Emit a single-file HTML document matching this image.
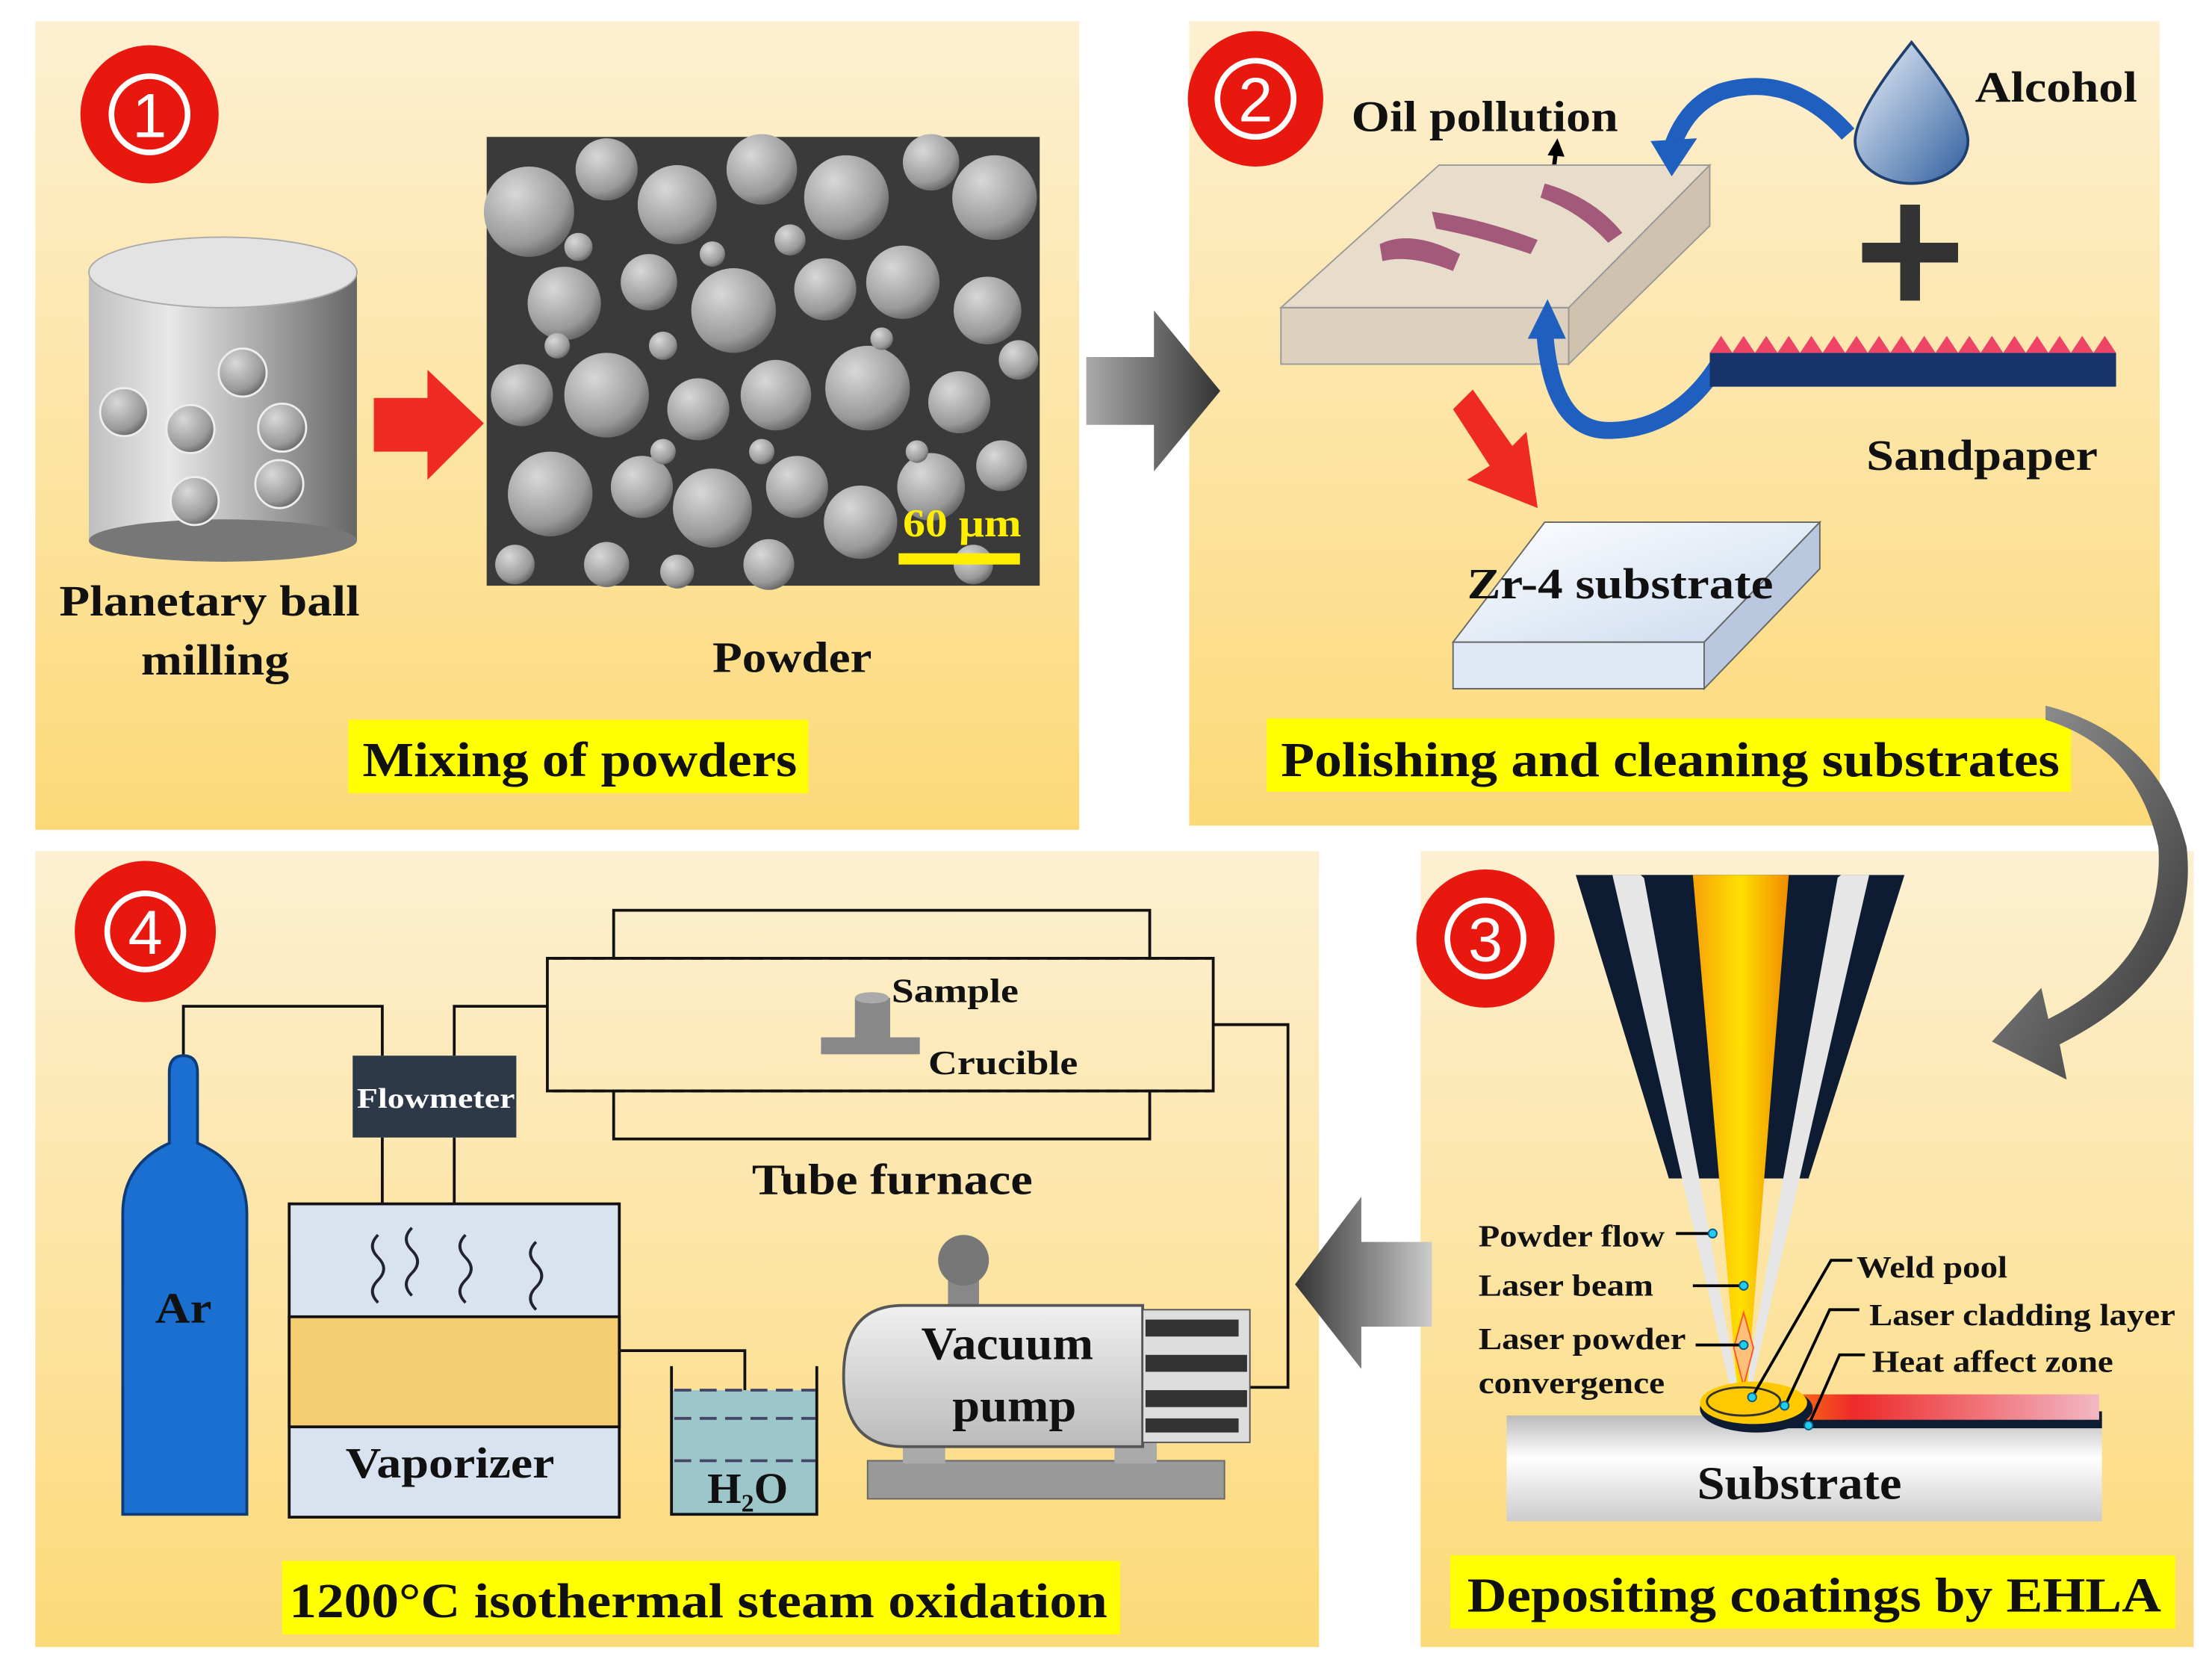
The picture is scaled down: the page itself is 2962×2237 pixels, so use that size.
<!DOCTYPE html>
<html><head><meta charset="utf-8"><style>
html,body{margin:0;padding:0;background:#fff}
svg{display:block}
text{font-family:"Liberation Serif",serif;font-weight:bold;fill:#111}
</style></head><body>
<svg width="2962" height="2237" viewBox="0 0 1568 1184" preserveAspectRatio="none" xmlns="http://www.w3.org/2000/svg">
<defs>
<linearGradient id="bg" x1="0" y1="0" x2="0" y2="1"><stop offset="0" stop-color="#fdf0d2"/><stop offset="1" stop-color="#fcd978"/></linearGradient>
<linearGradient id="cyl" x1="0" y1="0" x2="1" y2="0"><stop offset="0" stop-color="#bfbfbf"/><stop offset=".3" stop-color="#e8e8e8"/><stop offset="1" stop-color="#666"/></linearGradient>
<radialGradient id="ball" cx=".35" cy=".3" r=".8"><stop offset="0" stop-color="#d8d8d8"/><stop offset=".7" stop-color="#999"/><stop offset="1" stop-color="#555"/></radialGradient>
<linearGradient id="darr" x1="0" y1="0" x2="1" y2="0"><stop offset="0" stop-color="#aaa"/><stop offset="1" stop-color="#333"/></linearGradient>
<linearGradient id="darr2" x1="1" y1="0" x2="0" y2="0"><stop offset="0" stop-color="#ccc"/><stop offset="1" stop-color="#333"/></linearGradient>
<linearGradient id="beam" x1="0" y1="0" x2="1" y2="0"><stop offset="0" stop-color="#f7a20a"/><stop offset=".5" stop-color="#ffe000"/><stop offset="1" stop-color="#f08a00"/></linearGradient>
<linearGradient id="heat" x1="0" y1="0" x2="1" y2="0"><stop offset="0" stop-color="#ffa000"/><stop offset=".3" stop-color="#ee2a2a"/><stop offset="1" stop-color="#f2b8c4"/></linearGradient>
<linearGradient id="sub" x1="0" y1="0" x2="0" y2="1"><stop offset="0" stop-color="#bbb"/><stop offset=".4" stop-color="#fff"/><stop offset="1" stop-color="#ccc"/></linearGradient>
<linearGradient id="drop" x1="0" y1="0" x2="1" y2="1"><stop offset="0" stop-color="#eef4fb"/><stop offset="1" stop-color="#2f5f9f"/></linearGradient>
<linearGradient id="zr" x1="0" y1="0" x2="1" y2="1"><stop offset="0" stop-color="#fff"/><stop offset="1" stop-color="#c9d9ee"/></linearGradient>
<linearGradient id="pump" x1="0" y1="0" x2="0" y2="1"><stop offset="0" stop-color="#f0f0f0"/><stop offset="1" stop-color="#bbb"/></linearGradient>
<linearGradient id="curv" x1="0" y1="0" x2="1" y2="1"><stop offset="0" stop-color="#999"/><stop offset="1" stop-color="#333"/></linearGradient>
</defs>
<rect width="1568" height="1184" fill="#fff"/>
<rect x="25" y="15" width="740" height="573" fill="url(#bg)"/>
<rect x="843" y="15" width="688" height="570" fill="url(#bg)"/>
<rect x="25" y="603" width="910" height="564" fill="url(#bg)"/>
<rect x="1007" y="603" width="548" height="564" fill="url(#bg)"/>

<!-- Panel 1 -->
<circle cx="106" cy="81" r="49" fill="#e8180f"/>
<circle cx="106" cy="81" r="27" fill="none" stroke="#fff" stroke-width="4"/>
<text x="106" y="97" font-size="44" text-anchor="middle" style="fill:#fff;font-weight:normal;font-family:'Liberation Sans',sans-serif">1</text>
<rect x="63" y="193" width="190" height="190" fill="url(#cyl)"/>
<ellipse cx="158" cy="383" rx="95" ry="15" fill="#777"/>
<ellipse cx="158" cy="193" rx="95" ry="25" fill="#e3e3e3" stroke="#aaa"/>
<g fill="url(#ball)" stroke="#eee" stroke-width="1.5">
<circle cx="88" cy="292" r="17"/><circle cx="135" cy="304" r="17"/><circle cx="172" cy="264" r="17"/><circle cx="200" cy="303" r="17"/><circle cx="138" cy="355" r="17"/><circle cx="198" cy="343" r="17"/></g>
<text x="42" y="436" font-size="31" textLength="213" lengthAdjust="spacingAndGlyphs">Planetary ball</text>
<text x="100" y="478" font-size="31" textLength="105" lengthAdjust="spacingAndGlyphs">milling</text>
<polygon points="265,282 303,282 303,262 343,300 303,340 303,320 265,320" fill="#ee2a22"/>
<rect x="345" y="97" width="392" height="318" fill="#3a3a3a"/>
<g fill="url(#ball)">
<circle cx="375" cy="150" r="32"/><circle cx="430" cy="120" r="22"/><circle cx="480" cy="145" r="28"/><circle cx="540" cy="120" r="25"/><circle cx="600" cy="140" r="30"/><circle cx="660" cy="115" r="20"/><circle cx="705" cy="140" r="30"/>
<circle cx="400" cy="215" r="26"/><circle cx="460" cy="200" r="20"/><circle cx="520" cy="220" r="30"/><circle cx="585" cy="205" r="22"/><circle cx="640" cy="200" r="26"/><circle cx="700" cy="220" r="24"/>
<circle cx="370" cy="280" r="22"/><circle cx="430" cy="280" r="30"/><circle cx="495" cy="290" r="22"/><circle cx="550" cy="280" r="25"/><circle cx="615" cy="275" r="30"/><circle cx="680" cy="285" r="22"/><circle cx="722" cy="255" r="14"/>
<circle cx="390" cy="350" r="30"/><circle cx="455" cy="345" r="22"/><circle cx="505" cy="360" r="28"/><circle cx="565" cy="345" r="22"/><circle cx="610" cy="370" r="26"/><circle cx="660" cy="345" r="24"/><circle cx="710" cy="330" r="18"/>
<circle cx="365" cy="400" r="14"/><circle cx="430" cy="400" r="16"/><circle cx="480" cy="405" r="12"/><circle cx="545" cy="400" r="18"/><circle cx="690" cy="400" r="14"/>
<circle cx="410" cy="175" r="10"/><circle cx="505" cy="180" r="9"/><circle cx="560" cy="170" r="11"/><circle cx="625" cy="240" r="8"/><circle cx="470" cy="245" r="10"/><circle cx="395" cy="245" r="9"/><circle cx="540" cy="320" r="9"/><circle cx="650" cy="320" r="8"/><circle cx="470" cy="320" r="9"/>
</g>
<text x="640" y="380" font-size="28" textLength="84" lengthAdjust="spacingAndGlyphs" style="fill:#ffee00">60 μm</text>
<rect x="637" y="392" width="86" height="8" fill="#ffee00"/>
<text x="505" y="476" font-size="31" textLength="113" lengthAdjust="spacingAndGlyphs">Powder</text>
<rect x="247" y="510" width="326" height="52" fill="#ffff00"/>
<text x="257" y="550" font-size="35" textLength="308" lengthAdjust="spacingAndGlyphs">Mixing of powders</text>

<polygon points="770,253 818,253 818,220 865,277 818,334 818,301 770,301" fill="url(#darr)"/>

<!-- Panel 2 -->
<circle cx="890" cy="70" r="48" fill="#e8180f"/>
<circle cx="890" cy="70" r="27" fill="none" stroke="#fff" stroke-width="4"/>
<text x="890" y="86" font-size="44" text-anchor="middle" style="fill:#fff;font-weight:normal;font-family:'Liberation Sans',sans-serif">2</text>
<text x="958" y="93" font-size="31" textLength="189" lengthAdjust="spacingAndGlyphs">Oil pollution</text>
<line x1="1100" y1="130" x2="1103" y2="107" stroke="#000" stroke-width="3"/>
<polygon points="1097,110 1104,98 1109,111" fill="#000"/>
<polygon points="908,218 1020,117 1212,117 1112,218" fill="#e8dccb"/>
<polygon points="908,218 1112,218 1112,258 908,258" fill="#ddd0bd" stroke="#999"/>
<polygon points="1112,218 1212,117 1212,160 1112,258" fill="#cfc2ae" stroke="#999"/>
<polygon points="908,218 1020,117 1212,117 1112,218" fill="none" stroke="#999"/>
<g fill="#a35a7a"><path d="M978,173 Q1000,162 1035,180 L1030,192 Q1000,180 980,185 Z"/><path d="M1015,150 Q1050,155 1090,170 L1085,180 Q1050,168 1018,162 Z"/><path d="M1095,130 Q1130,140 1150,165 L1140,172 Q1120,150 1092,140 Z"/></g>
<path d="M1310,95 Q1270,50 1220,65 Q1195,75 1185,105" fill="none" stroke="#1f5fbf" stroke-width="12"/>
<polygon points="1170,100 1185,125 1203,98" fill="#1f5fbf"/>
<path d="M1220,255 Q1190,305 1140,305 Q1100,305 1095,235" fill="none" stroke="#1f5fbf" stroke-width="12"/>
<polygon points="1083,240 1097,212 1110,240" fill="#1f5fbf"/>
<path d="M1355,30 Q1395,80 1395,100 A40,30 0 0 1 1315,100 Q1315,80 1355,30 Z" fill="url(#drop)" stroke="#1f3f6f" stroke-width="2"/>
<text x="1400" y="72" font-size="31" textLength="115" lengthAdjust="spacingAndGlyphs">Alcohol</text>
<rect x="1347" y="145" width="14" height="68" fill="#333"/>
<rect x="1320" y="172" width="68" height="14" fill="#333"/>
<rect x="1212" y="250" width="288" height="24" fill="#17336a"/>
<path d="M1212,250 l8,-12 8,12 8,-12 8,12 8,-12 8,12 8,-12 8,12 8,-12 8,12 8,-12 8,12 8,-12 8,12 8,-12 8,12 8,-12 8,12 8,-12 8,12 8,-12 8,12 8,-12 8,12 8,-12 8,12 8,-12 8,12 8,-12 8,12 8,-12 8,12 8,-12 8,12 8,-12 8,12 Z" fill="#ee4466"/>
<text x="1323" y="333" font-size="31" textLength="164" lengthAdjust="spacingAndGlyphs">Sandpaper</text>
<polygon points="1030,290 1044,276 1072,316 1082,306 1090,360 1040,340 1056,330" fill="#ee2a22"/>
<polygon points="1030,455 1095,370 1290,370 1208,455" fill="url(#zr)" stroke="#666"/>
<polygon points="1030,455 1208,455 1208,488 1030,488" fill="#dfe8f5" stroke="#666"/>
<polygon points="1208,455 1290,370 1290,403 1208,488" fill="#b9c8de" stroke="#666"/>
<text x="1040" y="424" font-size="31" textLength="217" lengthAdjust="spacingAndGlyphs">Zr-4 substrate</text>
<rect x="898" y="509" width="570" height="52" fill="#ffff00"/>
<text x="908" y="550" font-size="35" textLength="552" lengthAdjust="spacingAndGlyphs">Polishing and cleaning substrates</text>

<path d="M1450,500 Q1530,520 1550,600 Q1560,690 1460,740 L1465,765 L1412,738 L1447,700 L1452,722 Q1535,680 1530,600 Q1515,530 1450,510 Z" fill="url(#curv)"/>

<!-- Panel 3 -->
<circle cx="1053" cy="665" r="49" fill="#e8180f"/>
<circle cx="1053" cy="665" r="27" fill="none" stroke="#fff" stroke-width="4"/>
<text x="1053" y="681" font-size="44" text-anchor="middle" style="fill:#fff;font-weight:normal;font-family:'Liberation Sans',sans-serif">3</text>
<polygon points="1117,620 1350,620 1282,835 1183,835" fill="#0d1c33"/>
<polygon points="1143,620 1165,620 1233,990 1228,990" fill="#e6e6e6"/>
<polygon points="1303,620 1325,620 1240,990 1236,990" fill="#e6e6e6"/>
<polygon points="1163,620 1305,620 1280,640 1185,640" fill="#0d1c33"/>
<polygon points="1200,620 1268,620 1238,990 1232,990" fill="url(#beam)"/>
<polygon points="1236,930 1243,955 1236,982 1229,955" fill="#ffc07a" stroke="#ff5522"/>
<rect x="1068" y="1003" width="422" height="75" fill="url(#sub)"/>
<rect x="1250" y="1000" width="240" height="12" fill="#0d1c33"/>
<rect x="1240" y="988" width="248" height="18" fill="url(#heat)"/>
<ellipse cx="1245" cy="998" rx="40" ry="17" fill="#0d1c33"/>
<ellipse cx="1243" cy="994" rx="38" ry="15" fill="#ffc800"/>
<ellipse cx="1236" cy="993" rx="26" ry="10" fill="none" stroke="#333" stroke-width="1.5"/>
<g stroke="#000" stroke-width="2" fill="none">
<line x1="1188" y1="874" x2="1214" y2="874"/><line x1="1200" y1="911" x2="1236" y2="911"/><line x1="1202" y1="953" x2="1236" y2="953"/>
<polyline points="1242,990 1298,893 1313,893"/><polyline points="1265,997 1297,928 1318,928"/><polyline points="1282,1010 1304,960 1322,960"/></g>
<g fill="#22ccee" stroke="#0a5c88"><circle cx="1214" cy="874" r="3"/><circle cx="1236" cy="911" r="3"/><circle cx="1236" cy="953" r="3"/><circle cx="1242" cy="990" r="3"/><circle cx="1265" cy="996" r="3"/><circle cx="1282" cy="1010" r="3"/></g>
<g font-size="22">
<text x="1048" y="883" textLength="132" lengthAdjust="spacingAndGlyphs">Powder flow</text>
<text x="1048" y="918" textLength="124" lengthAdjust="spacingAndGlyphs">Laser beam</text>
<text x="1048" y="956" textLength="147" lengthAdjust="spacingAndGlyphs">Laser powder</text>
<text x="1048" y="987" textLength="132" lengthAdjust="spacingAndGlyphs">convergence</text>
<text x="1316" y="905" textLength="107" lengthAdjust="spacingAndGlyphs">Weld pool</text>
<text x="1325" y="939" textLength="217" lengthAdjust="spacingAndGlyphs">Laser cladding layer</text>
<text x="1327" y="972" textLength="171" lengthAdjust="spacingAndGlyphs">Heat affect zone</text></g>
<text x="1203" y="1062" font-size="33" textLength="145" lengthAdjust="spacingAndGlyphs">Substrate</text>
<rect x="1028" y="1102" width="514" height="52" fill="#ffff00"/>
<text x="1040" y="1142" font-size="35" textLength="492" lengthAdjust="spacingAndGlyphs">Depositing coatings by EHLA</text>

<polygon points="1015,880 965,880 965,848 918,910 965,970 965,940 1015,940" fill="url(#darr2)"/>

<!-- Panel 4 -->
<circle cx="103" cy="660" r="50" fill="#e8180f"/>
<circle cx="103" cy="660" r="27" fill="none" stroke="#fff" stroke-width="4"/>
<text x="103" y="676" font-size="44" text-anchor="middle" style="fill:#fff;font-weight:normal;font-family:'Liberation Sans',sans-serif">4</text>
<g stroke="#111" stroke-width="2" fill="none">
<polyline points="130,748 130,713 271,713 271,748"/>
<polyline points="322,748 322,713 388,713"/>
<polyline points="271,806 271,853"/><polyline points="322,806 322,853"/>
<rect x="388" y="679" width="472" height="94"/>
<polyline points="435,679 435,645 815,645 815,679"/>
<polyline points="435,773 435,807 815,807 815,773"/>
<polyline points="860,726 913,726 913,983 850,983"/>
<polyline points="440,957 528,957 528,1025"/>
</g>
<g stroke="#111" stroke-width="2" stroke-dasharray="9,5"><line x1="392" y1="679" x2="858" y2="679"/><line x1="392" y1="773" x2="858" y2="773"/></g>
<rect x="606" y="707" width="25" height="30" fill="#888"/>
<ellipse cx="618" cy="707" rx="12" ry="4" fill="#aaa"/>
<rect x="582" y="735" width="70" height="12" fill="#888"/>
<text x="632" y="710" font-size="24" textLength="90" lengthAdjust="spacingAndGlyphs">Sample</text>
<text x="658" y="761" font-size="24" textLength="106" lengthAdjust="spacingAndGlyphs">Crucible</text>
<text x="533" y="846" font-size="31" textLength="199" lengthAdjust="spacingAndGlyphs">Tube furnace</text>
<path d="M120,760 Q120,748 130,748 Q140,748 140,760 L140,810 Q175,825 175,860 L175,1073 L87,1073 L87,860 Q87,825 120,810 Z" fill="#1a6fd0" stroke="#0d3c78" stroke-width="2"/>
<text x="110" y="937" font-size="31" textLength="40" lengthAdjust="spacingAndGlyphs">Ar</text>
<rect x="250" y="748" width="116" height="58" fill="#2d3848"/>
<text x="253" y="785" font-size="20" textLength="112" lengthAdjust="spacingAndGlyphs" style="fill:#fff">Flowmeter</text>
<rect x="205" y="853" width="234" height="222" fill="#d9e3f0" stroke="#111" stroke-width="2"/>
<rect x="205" y="933" width="234" height="78" fill="#f3cd70" stroke="#111" stroke-width="2"/>
<g stroke="#223" stroke-width="2" fill="none">
<path d="M268,875 q-8,8 0,16 q8,8 0,16 q-8,8 0,16"/><path d="M292,870 q-8,8 0,16 q8,8 0,16 q-8,8 0,16"/><path d="M330,875 q-8,8 0,16 q8,8 0,16 q-8,8 0,16"/><path d="M380,880 q-8,8 0,16 q8,8 0,16 q-8,8 0,16"/></g>
<text x="245" y="1047" font-size="31" textLength="148" lengthAdjust="spacingAndGlyphs">Vaporizer</text>
<rect x="476" y="985" width="103" height="88" fill="#9cc6c9"/>
<polyline points="476,968 476,1073 579,1073 579,968" fill="none" stroke="#111" stroke-width="2"/>
<g stroke="#446" stroke-width="2" stroke-dasharray="12,6"><line x1="478" y1="985" x2="578" y2="985"/><line x1="478" y1="1005" x2="578" y2="1005"/><line x1="478" y1="1035" x2="578" y2="1035"/></g>
<text x="530" y="1065" font-size="31" text-anchor="middle">H<tspan font-size="18" dy="6">2</tspan><tspan dy="-6">O</tspan></text>
<rect x="615" y="1035" width="253" height="27" fill="#999" stroke="#666"/>
<rect x="640" y="1015" width="30" height="22" fill="#aaa"/><rect x="790" y="1015" width="30" height="22" fill="#aaa"/>
<rect x="672" y="900" width="22" height="30" fill="#888"/>
<circle cx="683" cy="893" r="18" fill="#777"/>
<path d="M640,925 L810,925 L810,1025 L640,1025 Q598,1025 598,975 Q598,925 640,925 Z" fill="url(#pump)" stroke="#555" stroke-width="2"/>
<rect x="810" y="928" width="76" height="94" fill="#ddd" stroke="#555"/>
<g fill="#333"><rect x="812" y="935" width="66" height="12"/><rect x="812" y="960" width="72" height="12"/><rect x="812" y="985" width="72" height="12"/><rect x="812" y="1005" width="66" height="10"/></g>
<text x="653" y="963" font-size="33" textLength="122" lengthAdjust="spacingAndGlyphs">Vacuum</text>
<text x="675" y="1007" font-size="33" textLength="88" lengthAdjust="spacingAndGlyphs">pump</text>
<rect x="200" y="1106" width="594" height="52" fill="#ffff00"/>
<text x="205" y="1146" font-size="35" textLength="580" lengthAdjust="spacingAndGlyphs">1200°C isothermal steam oxidation</text>
</svg>
</body></html>
